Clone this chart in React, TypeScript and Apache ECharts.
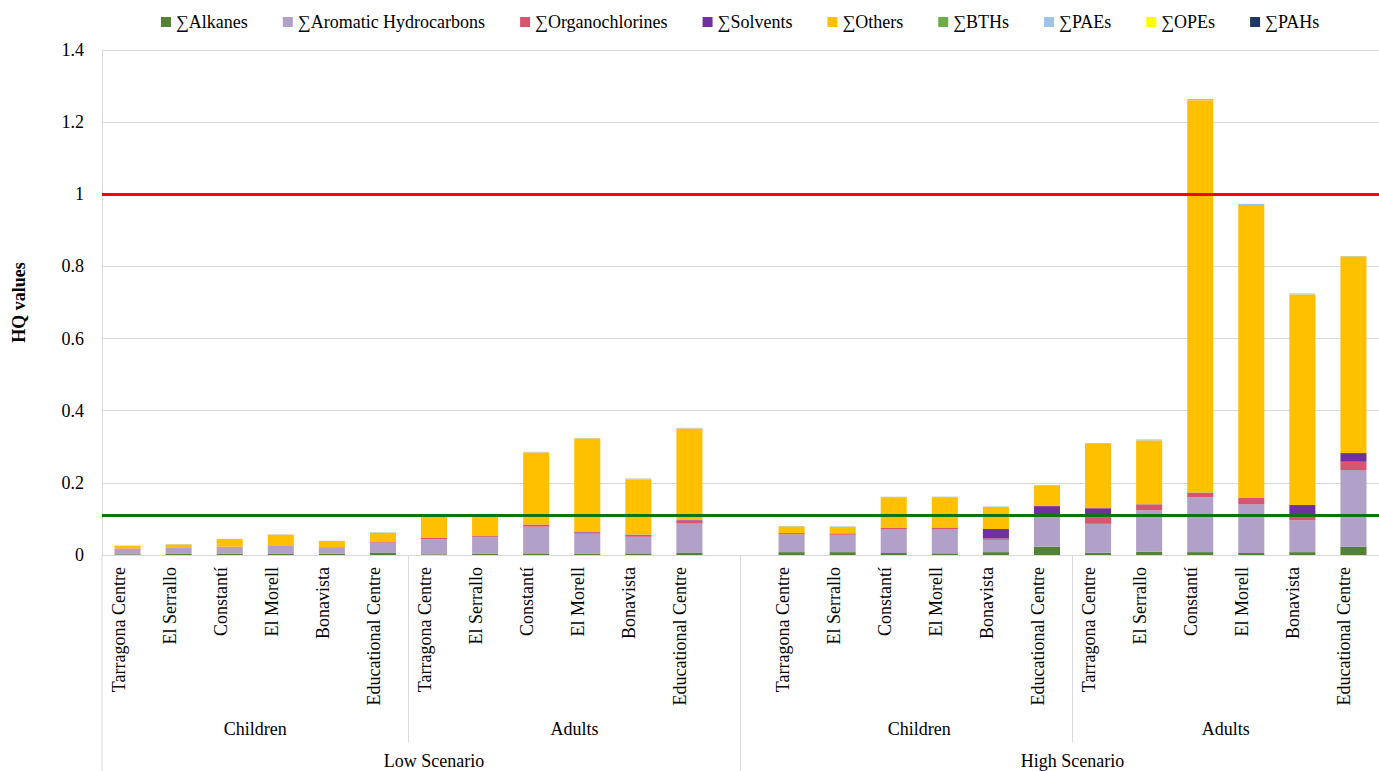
import React, { useEffect, useRef } from "react";
import * as echarts from "echarts";

const sites = ["Tarragona Centre", "El Serrallo", "Constantí", "El Morell", "Bonavista", "Educational Centre"];
// order: Low-Children, Low-Adults, (gap), High-Children, High-Adults
const categories = [...sites, ...sites, "", ...sites, ...sites];

const seriesNames = ["∑Alkanes", "∑Aromatic Hydrocarbons", "∑Organochlorines", "∑Solvents", "∑Others", "∑BTHs", "∑PAEs", "∑OPEs", "∑PAHs"];
const seriesColors = ["#548235", "#b1a0c7", "#d9546f", "#7030a0", "#ffc000", "#70ad47", "#9dc3e6", "#ffff00", "#1f3864"];

const alkanes = [0.002, 0.003, 0.004, 0.003, 0.004, 0.007, 0.002, 0.004, 0.0045, 0.003, 0.0045, 0.007,
  0.008, 0.008, 0.0055, 0.0046, 0.008, 0.023, 0.0064, 0.009, 0.008, 0.0055, 0.008, 0.023];
const aromatic = [0.015, 0.017, 0.017, 0.023, 0.016, 0.025, 0.042, 0.045, 0.074, 0.056, 0.046, 0.080,
  0.049, 0.048, 0.065, 0.066, 0.034, 0.086, 0.080, 0.115, 0.152, 0.135, 0.088, 0.2125];
const organochlorines = [0.001, 0.001, 0.002, 0.001, 0.001, 0.003, 0.004, 0.003, 0.005, 0.004, 0.005, 0.009,
  0.003, 0.003, 0.0045, 0.0046, 0.004, 0.0046, 0.0185, 0.0157, 0.012, 0.0175, 0.012, 0.023];
const solvents = [0, 0, 0, 0, 0.0005, 0.0005, 0.0005, 0.0005, 0.001, 0.001, 0.001, 0.001,
  0.001, 0.001, 0.001, 0.001, 0.026, 0.022, 0.025, 0.001, 0.001, 0.001, 0.0305, 0.024];
const others = [0.007, 0.008, 0.021, 0.029, 0.017, 0.026, 0.058, 0.054, 0.2, 0.259, 0.153, 0.254,
  0.018, 0.018, 0.084, 0.084, 0.061, 0.057, 0.178, 0.177, 1.088, 0.811, 0.584, 0.545];
const bths = [0.0002, 0.0002, 0.0002, 0.0002, 0.0002, 0.0002, 0.0002, 0.0002, 0.0002, 0.0002, 0.0002, 0.0002,
  0.0002, 0.0002, 0.0002, 0.0002, 0.0002, 0.0002, 0.0002, 0.0002, 0.0002, 0.0002, 0.0002, 0.0002];
const paes = [0.0005, 0.0005, 0.0005, 0.0005, 0.0005, 0.001, 0.001, 0.001, 0.001, 0.001, 0.002, 0.001,
  0.001, 0.001, 0.001, 0.001, 0.001, 0.001, 0.002, 0.002, 0.003, 0.003, 0.002, 0.001];
const opes = [0.0001, 0.0001, 0.0001, 0.0001, 0.0001, 0.0001, 0.0001, 0.0001, 0.0001, 0.0001, 0.0001, 0.0001,
  0.0001, 0.0001, 0.0001, 0.0001, 0.0001, 0.0001, 0.0001, 0.0001, 0.0001, 0.0001, 0.0001, 0.0001];
const pahs = [0.0001, 0.0001, 0.0001, 0.0001, 0.0001, 0.0001, 0.0001, 0.0001, 0.0001, 0.0001, 0.0001, 0.0001,
  0.0001, 0.0001, 0.0001, 0.0001, 0.0001, 0.0001, 0.0001, 0.0001, 0.0001, 0.0001, 0.0001, 0.0001];
const seriesValues = [alkanes, aromatic, organochlorines, solvents, others, bths, paes, opes, pahs];

const thresholdRed = 1;
const thresholdGreen = 0.106;

const ageGroups = ["Children", "Adults", "Children", "Adults"];
const scenarios = ["Low Scenario", "High Scenario"];

const FONT = "'Liberation Serif', 'Times New Roman', serif";

function withGap(arr: number[]) {
  return [...arr.slice(0, 12), null, ...arr.slice(12)];
}

export default function App() {
  const ref = useRef<HTMLDivElement>(null);
  useEffect(() => {
    if (!ref.current) return;
    const chart = echarts.init(ref.current, null, { renderer: "svg" });
    const series: any[] = seriesNames.map((name, i) => ({
      name,
      type: "bar",
      stack: "total",
      data: withGap(seriesValues[i]),
      itemStyle: { color: seriesColors[i] },
      barCategoryGap: "49%",
      emphasis: { disabled: true },
    }));
    series[4].markLine = {
      silent: true,
      symbol: "none",
      label: { show: false },
      z: 10,
      data: [
        { yAxis: thresholdRed, lineStyle: { color: "#ff0000", width: 3, type: "solid" } },
        { yAxis: thresholdGreen, lineStyle: { color: "#0b7512", width: 3, type: "solid" } },
      ],
    };
    chart.setOption({
      animation: false,
      backgroundColor: "#ffffff",
      textStyle: { fontFamily: FONT },
      legend: {
        top: 8,
        left: 156,
        itemWidth: 10,
        itemHeight: 10,
        itemGap: 35,
        icon: "rect",
        textStyle: { fontFamily: FONT, fontSize: 18, color: "#000" },
        data: seriesNames,
      },
      grid: { left: 102, top: 50, right: -8, bottom: 216, containLabel: false },
      xAxis: {
        type: "category",
        data: categories,
        axisLine: { show: true, lineStyle: { color: "#d9d9d9", width: 1 } },
        axisTick: { show: false },
        axisLabel: { rotate: 90, interval: 0, margin: 12, verticalAlign: "bottom", fontFamily: FONT, fontSize: 18, color: "#000" },
      },
      yAxis: {
        type: "value",
        min: 0,
        max: 1.4,
        interval: 0.2,
        name: "HQ values",
        nameLocation: "middle",
        nameGap: 74,
        nameTextStyle: { fontFamily: FONT, fontSize: 18, fontWeight: "bold", color: "#000" },
        axisLine: { show: true, lineStyle: { color: "#d9d9d9" } },
        axisTick: { show: false },
        splitLine: { lineStyle: { color: "#d9d9d9", width: 1 } },
        axisLabel: { margin: 18, fontFamily: FONT, fontSize: 18, color: "#000", formatter: (v: number) => String(Math.round(v * 10) / 10) },
      },
      series,
    });

    const px = (i: number) => chart.convertToPixel({ xAxisIndex: 0 }, i) as number;
    const step = px(1) - px(0);
    const left = px(0) - step / 2;
    const b6 = (px(5) + px(6)) / 2;
    const b12 = px(12);
    const b13 = (px(12) + px(13)) / 2;
    const b19 = (px(18) + px(19)) / 2;
    const right = px(24) + step / 2;
    const y0 = chart.convertToPixel({ yAxisIndex: 0 }, 0) as number;
    const lineStyle = { stroke: "#d9d9d9", lineWidth: 1 };
    const vline = (x: number, y2: number) => ({ type: "line", shape: { x1: x, y1: y0, x2: x, y2 }, style: lineStyle, silent: true });
    const label = (text: string, x: number, y: number) => ({
      type: "text", x, y, silent: true,
      style: { text, font: `18px ${FONT}`, fill: "#000", textAlign: "center", textVerticalAlign: "middle" },
    });
    chart.setOption({
      graphic: [
        vline(left, 771),
        vline(b6, 742),
        vline(b12, 771),
        vline(b19, 742),
        label(ageGroups[0], (left + b6) / 2, 729),
        label(ageGroups[1], (b6 + b12) / 2, 729),
        label(ageGroups[2], (b13 + b19) / 2, 729),
        label(ageGroups[3], (b19 + right) / 2, 729),
        label(scenarios[0], (left + b13) / 2, 761),
        label(scenarios[1], (b13 + right) / 2, 761),
      ],
    });
    return () => chart.dispose();
  }, []);
  return <div ref={ref} style={{ position: "absolute", left: 0, top: 0, width: 1379, height: 771 }} />;
}
